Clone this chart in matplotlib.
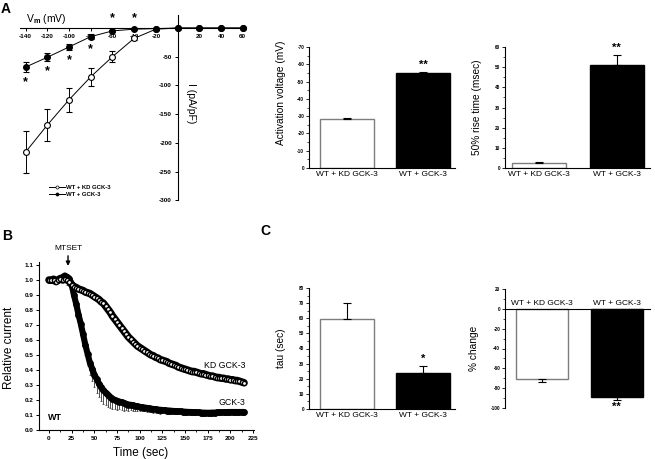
import numpy as np
import matplotlib
matplotlib.use('Agg')
import matplotlib.pyplot as plt
from matplotlib.lines import Line2D
from matplotlib.ticker import MultipleLocator

plt.rcParams['font.family'] = ['Liberation Sans', 'DejaVu Sans']
plt.rcParams['mathtext.fontset'] = 'custom'
plt.rcParams['mathtext.rm'] = 'Liberation Sans'
plt.rcParams['mathtext.bf'] = 'Liberation Sans:bold'
plt.rcParams['mathtext.it'] = 'Liberation Sans:italic'

# ---------------- data ----------------
iv_voltage = [-140, -120, -100, -80, -60, -40, -20, 0, 20, 40, 60]
iv_kd_mean = [-216, -169, -125, -85, -50, -18, -2, 0, 0, 0, 0]
iv_kd_err = [36, 28, 21, 16, 10, 3, 1, 0, 0, 0, 0]
iv_gck_mean = [-68, -51, -33, -15, -5, -2, -1, 0, 0, 0, 0]
iv_gck_err = [8, 7, 5, 4, 2, 1, 1, 0, 0, 0, 0]
iv_sig = ['below', 'below', 'below', 'below', 'above', 'above', '', '', '', '', '']
iv_xticks = [-140, -120, -100, -80, -60, -40, -20, 20, 40, 60]
iv_yticks = [-300, -250, -200, -150, -100, -50]

groups = ['WT + KD GCK-3', 'WT + GCK-3']
act_voltage = [-28.5, -55.0]
act_voltage_err = [0.3, 0.8]
act_sig = ['', '**']
rise_time = [2.6, 51.2]
rise_time_err = [0.3, 4.7]
rise_sig = ['', '**']
tau = [59.5, 24.0]
tau_err = [10.5, 4.6]
tau_sig = ['', '*']
pct_change = [-70.7, -89.0]
pct_change_err = [3.3, 2.3]
pct_sig = ['', '**']

time_step = 2.5
kd_rel = [1.00, 1.00, 1.00, 0.99, 1.00, 1.01, 1.00, 1.01, 1.00, 0.99,
          0.97, 0.955, 0.95, 0.94, 0.935, 0.93, 0.92, 0.915, 0.91, 0.90,
          0.89, 0.88, 0.87, 0.855, 0.845, 0.825, 0.805, 0.785, 0.76, 0.74,
          0.72, 0.70, 0.68, 0.66, 0.64, 0.62, 0.605, 0.59, 0.575, 0.56,
          0.55, 0.54, 0.53, 0.52, 0.51, 0.50, 0.495, 0.485, 0.48, 0.47,
          0.465, 0.46, 0.455, 0.445, 0.44, 0.435, 0.43, 0.42, 0.415, 0.41,
          0.405, 0.40, 0.395, 0.39, 0.39, 0.385, 0.38, 0.375, 0.375, 0.37,
          0.365, 0.36, 0.36, 0.355, 0.35, 0.35, 0.345, 0.345, 0.34, 0.34,
          0.335, 0.335, 0.33, 0.33, 0.325, 0.32, 0.315]
gck_rel = [1.00, 1.00, 1.01, 1.00, 1.00, 1.01, 1.02, 1.03, 1.02, 1.01,
           0.97, 0.90, 0.84, 0.77, 0.71, 0.64, 0.57, 0.51, 0.45, 0.41,
           0.37, 0.34, 0.31, 0.285, 0.265, 0.25, 0.235, 0.22, 0.21, 0.20,
           0.195, 0.19, 0.185, 0.18, 0.175, 0.17, 0.168, 0.165, 0.16, 0.158,
           0.155, 0.152, 0.15, 0.148, 0.145, 0.143, 0.14, 0.138, 0.136, 0.135,
           0.133, 0.132, 0.13, 0.13, 0.128, 0.127, 0.126, 0.125, 0.124, 0.123,
           0.122, 0.121, 0.12, 0.12, 0.118, 0.118, 0.117, 0.116, 0.116, 0.115,
           0.115, 0.115, 0.116, 0.116, 0.117, 0.117, 0.118, 0.118, 0.119, 0.12,
           0.12, 0.12, 0.12, 0.12, 0.12, 0.12, 0.12]
gck_rel_err = [0.01, 0.01, 0.01, 0.01, 0.01, 0.01, 0.03, 0.04, 0.05, 0.04,
               0.03, 0.04, 0.04, 0.05, 0.05, 0.06, 0.07, 0.08, 0.08, 0.08,
               0.08, 0.09, 0.09, 0.09, 0.09, 0.08, 0.08, 0.07, 0.07, 0.06,
               0.06, 0.05, 0.05, 0.05, 0.04, 0.04, 0.035, 0.035, 0.03, 0.03,
               0.025, 0.025, 0.025, 0.025, 0.025, 0.025, 0.025, 0.025, 0.025, 0.025,
               0.02, 0.02, 0.02, 0.02, 0.02, 0.02, 0.02, 0.02, 0.02, 0.02,
               0.02, 0.02, 0.02, 0.02, 0.02, 0.02, 0.02, 0.02, 0.02, 0.02,
               0.02, 0.02, 0.02, 0.02, 0.02, 0.02, 0.02, 0.02, 0.02, 0.02,
               0.02, 0.02, 0.02, 0.02, 0.02, 0.02, 0.02]
mtset_time = 21
b_xticks = [0, 25, 50, 75, 100, 125, 150, 175, 200, 225]
b_yticks = [0.0, 0.1, 0.2, 0.3, 0.4, 0.5, 0.6, 0.7, 0.8, 0.9, 1.0, 1.1]

# ---------------- figure ----------------
W, H = 655, 459
fig = plt.figure(figsize=(W / 100, H / 100), dpi=100)


def px_axes(left, top, right, bottom):
    return fig.add_axes([left / W, 1 - bottom / H, (right - left) / W, (bottom - top) / H])


# ===== Panel A: I-V =====
ax = px_axes(20.2, 15.4, 245.9, 200.2)
ax.set_xlim(-145, 63)
ax.set_ylim(-300, 22)
for s in ['top', 'right']:
    ax.spines[s].set_visible(False)
ax.spines['left'].set_position(('data', 0))
ax.spines['bottom'].set_position(('data', 0))
for s in ['left', 'bottom']:
    ax.spines[s].set_linewidth(0.8)
ax.patch.set_alpha(0)
ax.set_xticks(iv_xticks, [str(v) for v in iv_xticks], fontsize=4.6, fontweight='bold')
ax.set_yticks(iv_yticks, [str(v) for v in iv_yticks], fontsize=4.6, fontweight='bold')
ax.tick_params(axis='both', direction='out', length=2.5, width=0.7, pad=1.5)

ax.errorbar(iv_voltage, iv_kd_mean, yerr=iv_kd_err, fmt='-o', color='black', lw=0.7,
            ms=4.2, mfc='white', mec='black', mew=0.8, elinewidth=0.7, capsize=2.2,
            capthick=0.7, zorder=3)
ax.errorbar(iv_voltage, iv_gck_mean, yerr=iv_gck_err, fmt='-o', color='black', lw=0.7,
            ms=4.2, mfc='black', mec='black', mew=0.8, elinewidth=0.7, capsize=2.2,
            capthick=0.7, zorder=4)
for v, m, e, s in zip(iv_voltage, iv_gck_mean, iv_gck_err, iv_sig):
    if s == 'below':
        ax.annotate('*', xy=(v, m - e), xytext=(0, -3), textcoords='offset points',
                    ha='center', va='top', fontsize=9, fontweight='bold')
    elif s == 'above':
        ax.annotate('*', xy=(v, 0), xytext=(0, 3), textcoords='offset points',
                    ha='center', va='bottom', fontsize=9, fontweight='bold')

fig.text(26 / W, 1 - 19 / H, r'V$_{\mathbf{m}}$ (mV)', fontsize=7.5, ha='left', va='center')
fig.text(191 / W, 1 - 103 / H, 'I (pA/pF)', fontsize=7.5, ha='center', va='center', rotation=270)

handles = [Line2D([], [], color='black', lw=0.7, marker='o', ms=2.2, mfc='white', mec='black', mew=0.5),
           Line2D([], [], color='black', lw=0.7, marker='o', ms=2.2, mfc='black', mec='black', mew=0.5)]
fig.legend(handles, groups, loc='upper left', bbox_to_anchor=(49 / W, 1 - 185 / H),
           frameon=False, prop={'size': 4.3, 'weight': 'bold'}, handlelength=2.6,
           handletextpad=0.3, labelspacing=0.35, borderpad=0, borderaxespad=0)


# ===== bar panels =====
def bar_panel(rect, vals, errs, sig, ylim, ticks, minor, ylabel, label_xy, sig_up=True,
              xlim=(-0.5, 1.42), zero_axis=False):
    ax = px_axes(*rect)
    x = np.arange(len(vals))
    ax.bar(x, vals, width=0.7, color=['white', 'black'], edgecolor=['#7d7d7d', 'black'],
           linewidth=1.0, zorder=2)
    lower = [e if v < 0 else 0 for v, e in zip(vals, errs)]
    upper = [e if v > 0 else 0 for v, e in zip(vals, errs)]
    ax.errorbar(x, vals, yerr=[lower, upper], fmt='none', ecolor='black', elinewidth=0.8,
                capsize=3, capthick=0.8, zorder=3)
    for xi, v, e, s in zip(x, vals, errs, sig):
        if s:
            tip = v - e if v < 0 else v + e
            ax.annotate(s, xy=(xi, tip), xytext=(0, 1.5 if sig_up else -1.5),
                        textcoords='offset points', ha='center',
                        va='bottom' if sig_up else 'top', fontsize=8, fontweight='bold')
    ax.set_ylim(*ylim)
    ax.set_xlim(*xlim)
    ax.set_yticks(ticks, [str(t) for t in ticks], fontsize=3.4, fontweight='bold')
    ax.yaxis.set_minor_locator(MultipleLocator(minor))
    ax.tick_params(axis='y', which='major', direction='out', length=2.2, width=0.6, pad=1.2)
    ax.tick_params(axis='y', which='minor', direction='out', length=1.2, width=0.5)
    for s in ['top', 'right']:
        ax.spines[s].set_visible(False)
    for s in ['left', 'bottom']:
        ax.spines[s].set_linewidth(0.8)
    if zero_axis:
        ax.spines['bottom'].set_position(('data', 0))
        ax.set_xticks([])
        for xi, g in zip(x, groups):
            ax.annotate(g, xy=(xi, 0), xytext=(0, 1.5), textcoords='offset points',
                        ha='center', va='bottom', fontsize=6)
    else:
        ax.set_xticks(x, groups, fontsize=6)
        ax.tick_params(axis='x', length=0, pad=2)
    ax.set_ylabel(ylabel, fontsize=7.3)
    ax.yaxis.set_label_coords(*label_xy)
    return ax


bar_panel((309, 47, 455, 168), act_voltage, act_voltage_err, act_sig, (0, -70),
          [0, -10, -20, -30, -40, -50, -60, -70], 5, 'Activation voltage (mV)', (-0.16, 0.62),
          sig_up=True)
bar_panel((505, 47, 650, 168), rise_time, rise_time_err, rise_sig, (0, 60),
          [0, 10, 20, 30, 40, 50, 60], 5, '50% rise time (msec)', (-0.16, 0.5),
          sig_up=True, xlim=(-0.44, 1.43))
bar_panel((309, 288, 455, 409), tau, tau_err, tau_sig, (0, 80),
          [0, 10, 20, 30, 40, 50, 60, 70, 80], 5, 'tau (sec)', (-0.16, 0.5), sig_up=True)
bar_panel((505, 288.7, 650, 408.3), pct_change, pct_change_err, pct_sig, (-100, 20),
          [20, 0, -20, -40, -60, -80, -100], 10, '% change', (-0.18, 0.5),
          sig_up=False, xlim=(-0.5, 1.45), zero_axis=True)

# ===== Panel B: time course =====
axb = px_axes(39, 262, 254, 430)
trace_time = np.arange(len(kd_rel)) * time_step
axb.errorbar(trace_time, gck_rel, yerr=[gck_rel_err, np.zeros(len(gck_rel_err))], fmt='none',
             ecolor='#333333', elinewidth=0.6, capsize=1.0, capthick=0.5, zorder=1.5)
axb.plot(trace_time, gck_rel, '-', color='black', lw=4.4, solid_capstyle='round', zorder=2)
axb.plot(trace_time, gck_rel, 'o', ms=4.3, mfc='black', mec='black', mew=0.5, zorder=2.2)
axb.plot(trace_time, kd_rel, '-', color='black', lw=5.4, solid_capstyle='round', zorder=2.5)
axb.plot(trace_time, kd_rel, 'o', ms=3.0, mfc='white', mec='black', mew=1.0, zorder=3)
axb.set_xlim(-11, 226)
axb.set_ylim(0, 1.12)
for s in ['top', 'right']:
    axb.spines[s].set_visible(False)
for s in ['left', 'bottom']:
    axb.spines[s].set_linewidth(0.8)
axb.set_xticks(b_xticks, [str(t) for t in b_xticks], fontsize=4.6, fontweight='bold')
axb.set_yticks(b_yticks, ['%.1f' % t for t in b_yticks], fontsize=4.6, fontweight='bold')
axb.xaxis.set_minor_locator(MultipleLocator(12.5))
axb.tick_params(axis='both', which='major', direction='out', length=2.5, width=0.7, pad=1.5)
axb.tick_params(axis='x', which='minor', direction='out', length=1.5, width=0.6)
axb.set_ylabel('Relative current', fontsize=8.5)
axb.yaxis.set_label_coords(-0.11, 0.49)
axb.set_xlabel('Time (sec)', fontsize=8.5)
axb.xaxis.set_label_coords(0.474, -0.10)
axb.annotate('', xy=(mtset_time, 1.075), xytext=(mtset_time, 1.18),
             arrowprops=dict(arrowstyle='-|>', color='black', lw=1.0, mutation_scale=6),
             annotation_clip=False)
axb.text(mtset_time, 1.19, 'MTSET', fontsize=6, ha='center', va='bottom', clip_on=False)
axb.text(7, 0.08, 'WT', fontsize=6.5, fontweight='bold', ha='center', va='center')
axb.text(217, 0.43, 'KD GCK-3', fontsize=6.3, ha='right', va='center')
axb.text(217, 0.185, 'GCK-3', fontsize=6.3, ha='right', va='center')

# panel letters
fig.text(6 / W, 1 - 9 / H, 'A', fontsize=10, fontweight='bold', ha='center', va='center')
fig.text(7 / W, 1 - 236 / H, 'B', fontsize=10, fontweight='bold', ha='center', va='center')
fig.text(265 / W, 1 - 231 / H, 'C', fontsize=10, fontweight='bold', ha='center', va='center')

fig.savefig('out.png', dpi=100)
